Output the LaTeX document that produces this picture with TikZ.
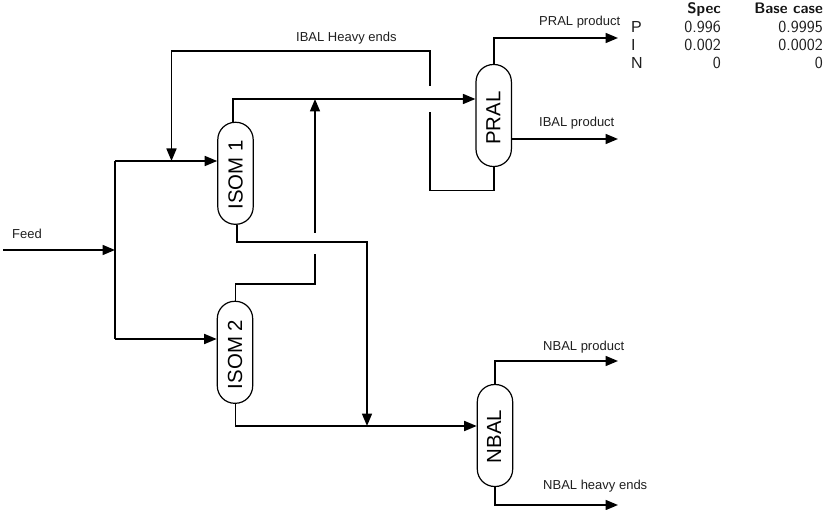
\documentclass[tikz,border=0pt]{standalone}
\usepackage{fontspec}
\setmainfont{Liberation Sans}
\usetikzlibrary{arrows.meta,calc}
\tikzset{
  unit/.style={draw=black,line width=1.2pt,fill=white,rectangle,rounded corners=17.4pt,minimum width=35.4pt,minimum height=102pt,inner sep=0pt},
  unitlabel/.style={font=\fontsize{20.4}{22}\selectfont,rotate=90,inner sep=0pt},
  stream/.style={draw=black,line width=1.7pt,line join=miter},
  flow/.style={stream,-{Triangle[length=12.5pt,width=10pt]}},
  lab/.style={font=\fontsize{13}{15}\selectfont,inner sep=0pt,anchor=base west,text=black!88},
  rowlab/.style={font=\fontsize{16}{18}\selectfont,inner sep=0pt,anchor=base west,text=black!88},
  cell/.style={font=\sffamily\fontsize{17}{19}\selectfont,inner sep=0pt,anchor=base east,text=black!88},
  head/.style={font=\sffamily\bfseries\fontsize{15.2}{18}\selectfont,inner sep=0pt,anchor=base east,text=black!92}
}
\begin{document}
\begin{tikzpicture}[x=1pt,y=-1pt]
\useasboundingbox (0,0) rectangle (826,510);
% coordinates
\coordinate (feed) at (3,250);
\coordinate (split) at (115,250);
\coordinate (splitT) at (115,161);
\coordinate (splitB) at (115,339);
\coordinate (heavyS) at (430,86);
\coordinate (heavyA) at (430,51);
\coordinate (heavyB) at (171.5,51);
\coordinate (heavyE) at (171.5,161);
\coordinate (upS) at (315,233);
\coordinate (upE) at (315,99);
\coordinate (i1t) at (233,99);
\coordinate (i1b) at (237,242);
\coordinate (dn) at (367,242);
\coordinate (dnE) at (367,426);
\coordinate (i2t) at (235.5,284);
\coordinate (i2e) at (315,254);
\coordinate (i2b) at (235.5,426);
\coordinate (prT) at (618,38);
\coordinate (prM) at (618,139);
\coordinate (prB) at (430,190.5);
\coordinate (prE) at (430,112);
\coordinate (nbT) at (618,361);
\coordinate (nbB) at (618,505);
% units
\node[unit] (isoma) at (235.5,173.3) {};
\node[unitlabel] (isomat) at (235.5,175) {ISOM 1};
\node[unit] (isomb) at (235,352.3) {};
\node[unitlabel] (isombt) at (235,354.5) {ISOM 2};
\node[unit] (pral) at (493.7,115.5) {};
\node[unitlabel] (pralt) at (493.3,118) {PRAL};
\node[unit] (nbal) at (495,435.5) {};
\node[unitlabel] (nbalt) at (494,436.5) {NBAL};
% connectors
\draw[flow] (feed) -- (split);
\draw[stream] (splitT) -- (splitB);
\draw[flow] (splitT) -- (splitT -| isoma.west);
\draw[flow] (splitB) -- (splitB -| isomb.west);
\draw[flow] (heavyS) -- (heavyA) -- (heavyB) -- (heavyE);
\draw[flow] (isoma.north -| i1t) -- (i1t) -- (i1t -| pral.west);
\draw[flow] (upS) -- (upE);
\draw[flow] (isoma.south -| i1b) -- (i1b) -- (dn) -- (dnE);
\draw[stream] (isomb.north -| i2t) -- (i2t) -- (i2t -| i2e) -- (i2e);
\draw[flow] (isomb.south -| i2b) -- (i2b) -- (i2b -| nbal.west);
\draw[flow] (pral.north) -- (pral.north |- prT) -- (prT);
\draw[flow] (prM -| pral.east) -- (prM);
\draw[stream] (pral.south) -- (pral.south |- prB) -- (prB) -- (prE);
\draw[flow] (nbal.north) -- (nbal.north |- nbT) -- (nbT);
\draw[flow] (nbal.south) -- (nbal.south |- nbB) -- (nbB);
% stream labels
\node[lab] (lfeed) at (12,239) {Feed};
\node[lab] (lheavy) at (296,41.5) {IBAL Heavy ends};
\node[lab] (lpral) at (539,26) {PRAL product};
\node[lab] (libal) at (539,127) {IBAL product};
\node[lab] (lnbp) at (543,350) {NBAL product};
\node[lab] (lnbh) at (543,489) {NBAL heavy ends};
% table
\node[head] (h1) at (721,13.5) {Spec};
\node[head] (h2) at (823,13.5) {Base case};
\node[rowlab] (rp) at (631,33) {P};
\node[rowlab] (ri) at (631,51) {I};
\node[rowlab] (rn) at (631,69) {N};
\node[cell] (a1) at (721,33) {0.996};
\node[cell] (a2) at (721,51) {0.002};
\node[cell] (a3) at (721,69) {0};
\node[cell] (b1) at (823,33) {0.9995};
\node[cell] (b2) at (823,51) {0.0002};
\node[cell] (b3) at (823,69) {0};
\end{tikzpicture}
\end{document}
